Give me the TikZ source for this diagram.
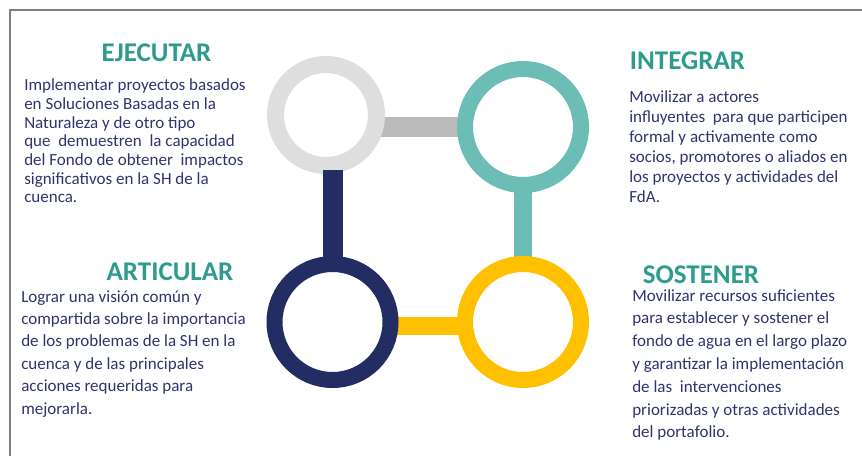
\documentclass[tikz,border=0pt]{standalone}
\usepackage{fontspec}
\setmainfont{Carlito}
\usetikzlibrary{backgrounds}
\definecolor{titlecol}{HTML}{2E9C8C}
\definecolor{bodycol}{HTML}{2F3470}
\definecolor{ringgray}{HTML}{DEDEDE}
\definecolor{bargray}{HTML}{BBBBBB}
\definecolor{ringteal}{HTML}{6DBDB7}
\definecolor{ringnavy}{HTML}{232C63}
\definecolor{ringyellow}{HTML}{FFC000}
\definecolor{framecol}{HTML}{7F7F7F}
\begin{document}
\begin{tikzpicture}[x=0.75pt,y=-0.75pt,
  ringbox/.style={circle,draw,fill=none,inner sep=0pt,line width=12pt,minimum size=87pt},
  barline/.style={line width=13.5pt},
  titletext/.style={anchor=base,inner sep=0pt,text=titlecol,font=\fontsize{20.25pt}{24pt}\selectfont\bfseries},
  bodytext/.style={anchor=base west,inner sep=0pt,text=bodycol}
]
\useasboundingbox (0,0) rectangle (862,456);
\draw[framecol,line width=1.2pt] (862,10) -- (10,10) -- (10,456);

% rings
\node[ringbox,draw=ringgray,line width=12.75pt,minimum size=75.75pt] (ejec) at (326,115) {};
\node[ringbox,draw=ringteal] (integ) at (523,127) {};
\node[ringbox,draw=ringnavy] (artic) at (332.5,322) {};
\node[ringbox,draw=ringyellow] (sost) at (523,322) {};

\begin{pgfonlayer}{background}
\fill[white] (0,0) rectangle (862,456);
\draw[barline,bargray,line width=14.25pt] ([xshift=-4pt]ejec.east |- integ.west) -- ([xshift=4pt]integ.west);
\draw[barline,ringteal] ([yshift=3pt]integ.south) -- ([yshift=-3pt]integ.south |- sost.north);
\draw[barline,ringyellow] ([xshift=-3pt,yshift=-3pt]artic.east) -- ([xshift=3pt,yshift=-3pt]sost.west);
\end{pgfonlayer}
\draw[barline,ringnavy,line width=15pt] ([yshift=3pt]artic.north |- ejec.south) -- ([yshift=-4pt]artic.north);

% titles
\node[titletext] (tejec) at (156.5,62) {EJECUTAR};
\node[titletext] (tinteg) at (687.5,70) {INTEGRAR};
\node[titletext] (tartic) at (170,280) {ARTICULAR};
\node[titletext] (tsost) at (701,283) {SOSTENER};

% bodies
\node[bodytext] (bejec) at (24,91) {\parbox[t]{260pt}{\fontsize{12.75pt}{14.0pt}\selectfont\raggedright
Implementar proyectos basados\\
en Soluciones Basadas en la\\
Naturaleza y de otro tipo\\
que~ demuestren~ la capacidad\\
del Fondo de obtener~ impactos\\
significativos en la SH de la\\
cuenca.}};

\node[bodytext] (binteg) at (629,103) {\parbox[t]{200pt}{\fontsize{12.75pt}{15.0pt}\selectfont\raggedright
Movilizar a actores\\
influyentes~ para que participen\\
formal y activamente como\\
socios, promotores o aliados en\\
los proyectos y actividades del\\
FdA.}};

\node[bodytext] (bartic) at (21,302) {\parbox[t]{260pt}{\fontsize{12.75pt}{16.8pt}\selectfont\raggedright
Lograr una visión común y\\
compartida sobre la importancia\\
de los problemas de la SH en la\\
cuenca y de las principales\\
acciones requeridas para\\
mejorarla.}};

\node[bodytext] (bsost) at (632,301) {\parbox[t]{200pt}{\fontsize{12.75pt}{17.1pt}\selectfont\raggedright
Movilizar recursos suficientes\\
para establecer y sostener el\\
fondo de agua en el largo plazo\\
y garantizar la implementación\\
de las~ intervenciones\\
priorizadas y otras actividades\\
del portafolio.}};
\end{tikzpicture}
\end{document}
